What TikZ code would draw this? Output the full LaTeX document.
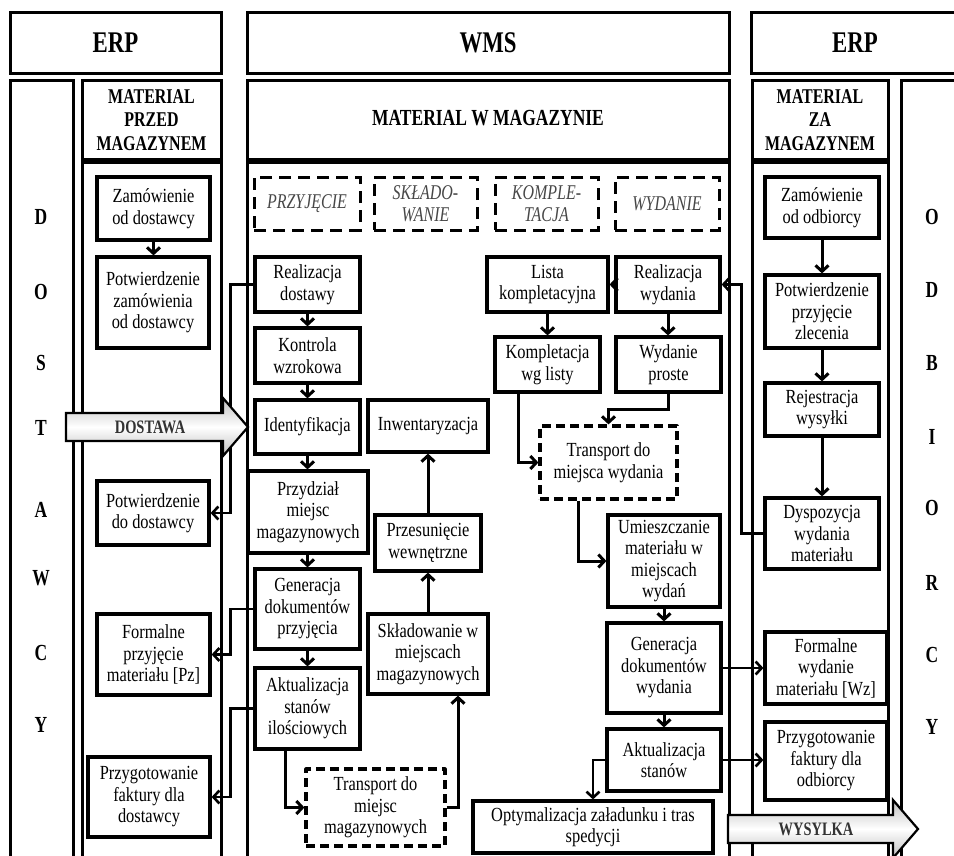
\documentclass[tikz,border=0pt]{standalone}
\usepackage{fontspec}
\setmainfont{Liberation Serif}
\newfontfamily\bxfont[FakeStretch=0.82]{Liberation Serif}
\newfontfamily\hdfont[FakeStretch=0.76]{Liberation Serif}
\usetikzlibrary{arrows.meta}
\tikzset{
  colbox/.style={draw, line width=3pt},
  stepbox/.style={draw, line width=3.2pt, fill=white, align=center, inner sep=1pt,
     font=\bxfont\fontsize{20}{21.5}\selectfont},
  dashbox/.style={stepbox, dash pattern=on 9pt off 5pt, line join=round},
  phasebox/.style={draw, line width=3pt, dash pattern=on 12pt off 7pt, align=center, inner sep=1pt,
     font=\hdfont\itshape\fontsize{21}{21.5}\selectfont, text=black!72},
  conn/.style={line width=3pt, -{Straight Barb[length=6pt,width=13pt]}},
  link/.style={line width=2.6pt, -{Straight Barb[length=6pt,width=13pt]}},
  hd/.style={font=\hdfont\bfseries\fontsize{30}{32}\selectfont},
  subhd/.style={align=center, font=\hdfont\bfseries\fontsize{21}{23.5}\selectfont},
  letter/.style={font=\hdfont\bfseries\fontsize{23}{25}\selectfont},
  bigarrow/.style={draw, line width=2.2pt, top color=gray!50, bottom color=gray!50, middle color=white},
  arrowtxt/.style={font=\hdfont\bfseries\fontsize{19}{20}\selectfont, text=black!80},
}
\begin{document}
\begin{tikzpicture}[x=1pt,y=-1pt]
\useasboundingbox (0,0) rectangle (954,855);
\clip (0,0) rectangle (954,855);
\fill[white] (0,0) rectangle (954,855);

% ---- columns and headers ----
\draw[colbox] (10,12) rectangle (221,73);
\draw[colbox] (247,12) rectangle (729,73);
\draw[colbox] (751,12) rectangle (962,73);
\node[hd] (erpL) at (115.5,43) {ERP};
\node[hd] (wms) at (488,43) {WMS};
\node[hd] (erpR) at (855,43) {ERP};

\draw[colbox] (10,80) rectangle (73,880);
\draw[colbox] (82,80) rectangle (221,159);
\draw[colbox] (82,162) rectangle (221,880);
\draw[colbox] (247,80) rectangle (729,159);
\draw[colbox] (247,162) rectangle (729,880);
\draw[colbox] (752,80) rectangle (888,159);
\draw[colbox] (752,162) rectangle (888,880);
\draw[colbox] (901,80) rectangle (962,880);

\node[subhd] (hmp) at (151.5,120) {MATERIAL\\PRZED\\MAGAZYNEM};
\node[subhd, font=\hdfont\bfseries\fontsize{23}{25}\selectfont] (hmw) at (488,118) {MATERIAL W MAGAZYNIE};
\node[subhd] (hmz) at (820,120) {MATERIAL\\ZA\\MAGAZYNEM};

% ---- side letters ----
\node[letter] (d1) at (41,217) {D};
\node[letter] (d2) at (41,292) {O};
\node[letter] (d3) at (41,363) {S};
\node[letter] (d4) at (41,428) {T};
\node[letter] (d5) at (41,510) {A};
\node[letter] (d6) at (41,578) {W};
\node[letter] (d7) at (41,653) {C};
\node[letter] (d8) at (41,725) {Y};

\node[letter] (o1) at (932,217) {O};
\node[letter] (o2) at (932,290) {D};
\node[letter] (o3) at (932,363) {B};
\node[letter] (o4) at (932,437) {I};
\node[letter] (o5) at (932,508) {O};
\node[letter] (o6) at (932,583) {R};
\node[letter] (o7) at (932,655) {C};
\node[letter] (o8) at (932,727) {Y};

% ---- phase boxes ----
\node[phasebox, minimum width=106pt, minimum height=53pt] (ph1) at (307,203.5) {PRZYJĘCIE};
\node[phasebox, minimum width=103pt, minimum height=53pt] (ph2) at (425.5,203.5) {SKŁADO-\\WANIE};
\node[phasebox, minimum width=103pt, minimum height=53pt] (ph3) at (546.5,203.5) {KOMPLE-\\TACJA};
\node[phasebox, minimum width=104pt, minimum height=53pt] (ph4) at (667,203.5) {WYDANIE};

% ---- left ERP nodes ----
\node[stepbox, minimum width=113pt, minimum height=63pt] (zd) at (153.5,208.5) {Zamówienie\\od dostawcy};
\node[stepbox, minimum width=112pt, minimum height=91pt] (pzd) at (153,302.5) {Potwierdzenie\\zamówienia\\od dostawcy};
\node[stepbox, minimum width=112pt, minimum height=64pt] (pdd) at (153,513) {Potwierdzenie\\do dostawcy};
\node[stepbox, minimum width=113pt, minimum height=81pt] (fpm) at (153.5,654.5) {Formalne\\przyjęcie\\materiału [Pz]};
\node[stepbox, minimum width=122pt, minimum height=80pt] (pfd) at (149,797) {Przygotowanie\\faktury dla\\dostawcy};

% ---- WMS nodes linked to the left ERP column ----
\node[stepbox, minimum width=105pt, minimum height=55pt] (rd) at (307.5,284.5) {Realizacja\\dostawy};
\node[stepbox, minimum width=105pt, minimum height=80pt] (gdp) at (307.5,609) {Generacja\\dokumentów\\przyjęcia};
\node[stepbox, minimum width=105pt, minimum height=81pt] (asi) at (307.5,708.5) {Aktualizacja\\stanów\\ilościowych};
\draw[link] (rd.west) -- ++(-23,0) |- (pdd.east);
\draw[link] (gdp.west) -- ++(-23,0) |- (fpm.east);
\draw[link] (asi.west) -- ++(-23,0) |- (pfd.east);

% ---- big arrows ----
\draw[bigarrow] (66,413) -- (223,413) -- (223,398) -- (248,427) -- (223,456) -- (223,441) -- (66,441) -- cycle;
\node[arrowtxt] (dost) at (150,427) {DOSTAWA};
\draw[bigarrow] (728,815) -- (893,815) -- (893,800) -- (918,829) -- (893,858) -- (893,843) -- (728,843) -- cycle;
\node[arrowtxt] (wys) at (816,829) {WYSYLKA};

% ---- WMS nodes ----
\node[stepbox, minimum width=105pt, minimum height=55pt] (kw) at (307.5,355.5) {Kontrola\\wzrokowa};
\node[stepbox, minimum width=105pt, minimum height=54pt] (id) at (307.5,427) {Identyfikacja};
\node[stepbox, minimum width=120pt, minimum height=52pt] (inw) at (428,426) {Inwentaryzacja};
\node[stepbox, minimum width=120pt, minimum height=82pt] (prz) at (308,512) {Przydział\\miejsc\\magazynowych};
\node[stepbox, minimum width=106pt, minimum height=56pt] (pw) at (428,543) {Przesunięcie\\wewnętrzne};
\node[stepbox, minimum width=120pt, minimum height=80pt] (skl) at (428,654) {Składowanie w\\miejscach\\magazynowych};
\node[dashbox, minimum width=139pt, minimum height=77pt] (tmm) at (375.5,807.5) {Transport do\\miejsc\\magazynowych};

\node[stepbox, minimum width=121pt, minimum height=55pt] (lk) at (547.5,284.5) {Lista\\kompletacyjna};
\node[stepbox, minimum width=104pt, minimum height=55pt] (rw) at (668,284.5) {Realizacja\\wydania};
\node[stepbox, minimum width=105pt, minimum height=55pt] (kwl) at (547.5,364.5) {Kompletacja\\wg listy};
\node[stepbox, minimum width=105pt, minimum height=55pt] (wp) at (668.5,364.5) {Wydanie\\proste};
\node[dashbox, minimum width=137pt, minimum height=73pt] (tmw) at (608.5,462.5) {Transport do\\miejsca wydania};
\node[stepbox, minimum width=112pt, minimum height=92pt] (um) at (664,561) {Umieszczanie\\materiału w\\miejscach\\wydań};
\node[stepbox, minimum width=114pt, minimum height=90pt] (gdw) at (664,668) {Generacja\\dokumentów\\wydania};
\node[stepbox, minimum width=114pt, minimum height=62pt] (as) at (664,760) {Aktualizacja\\stanów};
\node[stepbox, minimum width=240pt, minimum height=52pt] (opt) at (593,827) {Optymalizacja załadunku i tras\\spedycji};

% ---- right ERP nodes ----
\node[stepbox, minimum width=114pt, minimum height=61pt] (zo) at (822,207.5) {Zamówienie\\od odbiorcy};
\node[stepbox, minimum width=114pt, minimum height=73pt] (ppz) at (822,311.5) {Potwierdzenie\\przyjęcie\\zlecenia};
\node[stepbox, minimum width=114pt, minimum height=53pt] (rwy) at (822,409.5) {Rejestracja\\wysyłki};
\node[stepbox, minimum width=114pt, minimum height=71pt] (dwm) at (822,533.5) {Dyspozycja\\wydania\\materiału};
\node[stepbox, minimum width=122pt, minimum height=72pt] (fwm) at (826,668) {Formalne\\wydanie\\materiału [Wz]};
\node[stepbox, minimum width=122pt, minimum height=78pt] (pfo) at (826,761) {Przygotowanie\\faktury dla\\odbiorcy};

% ---- connectors ----
\draw[conn] (zd.south) -- (zd.south |- pzd.north);
\draw[conn] (rd.south) -- (kw.north);
\draw[conn] (kw.south) -- (id.north);
\draw[conn] (id.south) -- (id.south |- prz.north);
\draw[conn] (prz.south -| gdp.north) -- (gdp.north);
\draw[conn] (gdp.south) -- (asi.north);
\draw[conn] ([xshift=-22.5pt]asi.south) |- (tmm.west);
\draw[conn] (tmm.east) -| ([xshift=30pt]skl.south);
\draw[conn] (skl.north) -- (pw.south);
\draw[conn] (pw.north) -- (inw.south);

\draw[conn] (rw.west) -- (lk.east);
\draw[conn] (lk.south) -- (kwl.north);
\draw[conn] (rw.south) -- (rw.south |- wp.north);
\draw[conn] ([xshift=-29.5pt]kwl.south) |- (tmw.west);
\draw[conn] (wp.south) -- ++(0,16) -| (tmw.north);
\draw[conn] ([xshift=-30.5pt]tmw.south) |- (um.west);
\draw[conn] (um.south) -- (gdw.north);
\draw[conn] (gdw.south) -- (as.north);
\draw[link] (gdw.east) -- (gdw.east -| fwm.west);
\draw[link] (as.east) -- (as.east -| pfo.west);
\draw[link] (as.west) -| (opt.north);
\draw[link] (dwm.west) -- ++(-22,0) |- (rw.east);

\draw[conn] (zo.south) -- (ppz.north);
\draw[conn] (ppz.south) -- (rwy.north);
\draw[conn] (rwy.south) -- (dwm.north);
\end{tikzpicture}
\end{document}
